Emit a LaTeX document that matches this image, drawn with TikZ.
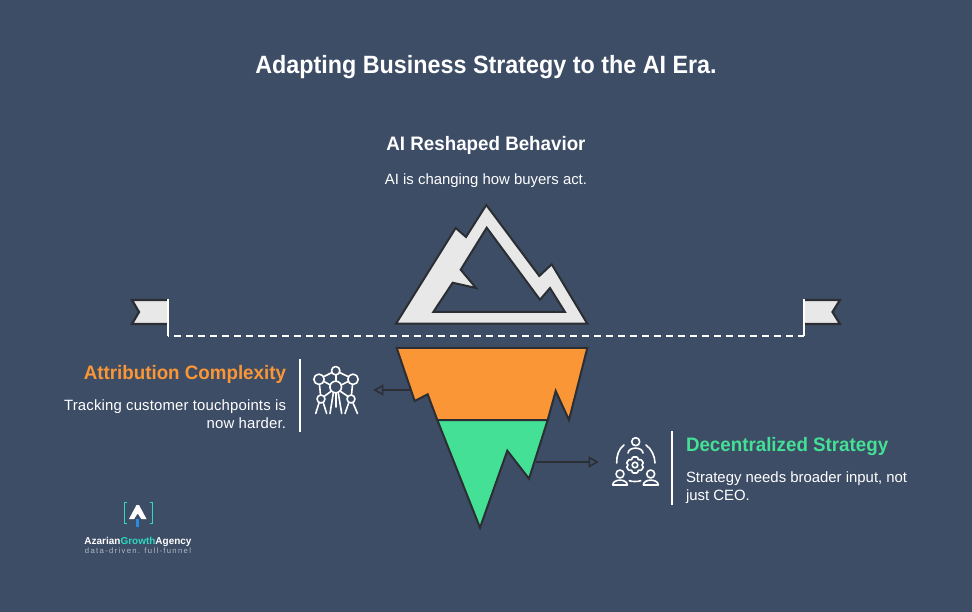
\documentclass[tikz,border=0pt]{standalone}
\usepackage{fontspec}
\setmainfont{Liberation Sans}
\newfontfamily\titlefam[FakeStretch=0.933]{Liberation Sans}
\newfontfamily\headfam[FakeStretch=0.962]{Liberation Sans}
\newfontfamily\bodywide[LetterSpace=1.1]{Liberation Sans}
\usetikzlibrary{arrows.meta}
\definecolor{bgc}{HTML}{3D4D66}
\definecolor{ink}{HTML}{2B2E33}
\definecolor{ice}{HTML}{E8E8E8}
\definecolor{orangec}{HTML}{FA9635}
\definecolor{greenc}{HTML}{43E095}
\definecolor{tealc}{HTML}{2FD9C0}
\definecolor{bluec}{HTML}{2B8BE0}
\tikzset{
  x=1pt,y=-1pt,
  berg/.style={draw=ink,line width=2pt,line join=miter,miter limit=6},
  txt/.style={inner sep=0pt,outer sep=0pt,text=white},
  titlet/.style={txt,font=\fontsize{25}{30}\selectfont\titlefam\bfseries},
  headt/.style={txt,font=\fontsize{19.5}{24}\selectfont\headfam\bfseries},
  bodyt/.style={txt,font=\fontsize{14.9}{18}\selectfont},
  conn/.style={draw=ink,line width=1.5pt,-{Triangle[open,length=10pt,width=11pt,line width=1.5pt]}},
  rulew/.style={draw=white,line width=1.7pt},
  icon/.style={draw=white,line width=1.6pt,line cap=round,line join=round},
  flagb/.style={fill=ice},
  flage/.style={draw=ink,line width=2.2pt,line join=miter}
}
\begin{document}
\begin{tikzpicture}
\useasboundingbox (0,0) rectangle (972,612);
\fill[bgc] (0,0) rectangle (972,612);

% texts
\node[titlet,anchor=base] (title) at (486,74) {Adapting Business Strategy to the AI Era.};
\node[headt,anchor=base] (hTop) at (486,151) {AI Reshaped Behavior};
\node[bodyt,anchor=base] (bTop) at (486,185) {AI is changing how buyers act.};
\node[headt,anchor=base east,text=orangec] (hLeft) at (286,379) {Attribution Complexity};
\node[bodyt,anchor=north east,align=right] (bLeft) at (286,399.7) {\bodywide Tracking customer touchpoints is\\\bodywide now harder.};
\node[headt,anchor=base west,text=greenc] (hRight) at (686,451) {Decentralized Strategy};
\node[bodyt,anchor=north west,align=left] (bRight) at (686,471.7) {Strategy needs broader input, not\\just CEO.};

% flags and water line
\coordinate (poleL) at (168,336);
\coordinate (poleR) at (804,336);
\fill[flagb] (132,300) -- (168,300) -- (168,324) -- (132,324) -- (139,312) -- cycle;
\draw[flage] (168,300) -- (132,300) -- (139,312) -- (132,324) -- (168,324);
\fill[flagb] (840,300) -- (804,300) -- (804,324) -- (840,324) -- (832.5,312) -- cycle;
\draw[flage] (804,300) -- (840,300) -- (832.5,312) -- (840,324) -- (804,324);
\draw[rulew] (168,299) -- (poleL);
\draw[rulew] (804,299) -- (poleR);
\draw[draw=white,line width=1.7pt,dash pattern=on 7pt off 5pt,dash phase=6pt] (poleL) -- (poleR);

% mountain
\draw[berg,fill=ice,even odd rule]
  (486.3,205) -- (539.3,276) -- (551.7,264.3) -- (587.3,323.7) -- (396,323.7) -- (455.7,228) -- (466,237) -- cycle
  (486.7,227.7) -- (540,299.7) -- (550,288) -- (565,312) -- (433.3,312) -- (452.7,282.7) -- (476,288) -- (460.7,269.7) -- cycle;

% iceberg below the water
\draw[berg,fill=orangec] (396.7,348) -- (587.3,348) -- (569,420) -- (555.7,391) -- (547.7,420) -- (437.3,420) -- (427.7,394.3) -- (414.7,401) -- cycle;
\draw[berg,fill=greenc] (437.3,420) -- (547.7,420) -- (529,478.7) -- (507.3,450.7) -- (480,527.7) -- cycle;

% connectors
\coordinate (orangeSide) at (411,390);
\coordinate (atomEnd) at (373.3,390);
\coordinate (greenSide) at (535.7,462);
\coordinate (gearEnd) at (598.7,462);
\draw[conn] (orangeSide) -- (atomEnd);
\draw[conn] (greenSide) -- (gearEnd);

% separators
\draw[rulew] (300,359) -- (300,432);
\draw[rulew] (672,431) -- (672,505);

% atomium icon
\begin{scope}[icon]
  \draw (335.7,370.7) circle (4.2);
  \draw (319,379.3) circle (5.2);
  \draw (353,379.3) circle (5.2);
  \draw (335.7,387) circle (5.8);
  \draw (321,399) circle (4);
  \draw (351,399) circle (4);
  \draw (332,372.5) -- (324,376.5);
  \draw (339.5,372.5) -- (348,376.5);
  \draw (335.7,375) -- (335.7,381.2);
  \draw (324,381.5) -- (330.3,385);
  \draw (348,381.5) -- (341.2,385);
  \draw (331.5,391) -- (324,396.5);
  \draw (340,391) -- (348,396.5);
  \draw (319.5,384.5) -- (320.5,395);
  \draw (352.5,384.5) -- (351.5,395);
  \draw (319,403) -- (315.7,413.5);
  \draw (323.3,403) -- (326.7,413.5);
  \draw (348.7,403) -- (345,413.5);
  \draw (353,403) -- (357.5,413.5);
  \draw (333.3,393) -- (330,413.5);
  \draw (338.3,393) -- (341.7,413.5);
  \draw (335.7,393) -- (335.7,407);
\end{scope}

% people and gear icon
\begin{scope}[icon]
  \draw (635.7,441.7) circle (4);
  \draw (628,453) .. controls (628.5,446.5) and (642.5,446.5) .. (643,453);
  \draw (620,474) circle (4);
  \draw (612.7,485) .. controls (613,478.5) and (627,478.5) .. (627.3,485) -- (612.7,485);
  \draw (650.7,474) circle (4);
  \draw (643.3,485) .. controls (643.6,478.5) and (658,478.5) .. (658.3,485) -- (643.3,485);
  \draw (624,445) .. controls (618.5,449) and (616.5,456) .. (616.7,463);
  \draw (646,445) .. controls (651.5,449) and (654.8,456) .. (655,463);
  \draw (629.3,480.7) .. controls (632.5,481.8) and (637.5,481.8) .. (640.7,480.7);
  \draw (635,465) circle (2.8);
  \draw[rounded corners=0.8pt] (632.5,457) -- (637.5,457) -- (638.3,460) -- (641,459.4) -- (643.5,463) -- (641.6,465)
        -- (643.5,467) -- (641,470.6) -- (638.3,470) -- (637.5,473) -- (632.5,473) -- (631.7,470)
        -- (629,470.6) -- (626.5,467) -- (628.4,465) -- (626.5,463) -- (629,459.4) -- (631.7,460) -- cycle;
\end{scope}

% logo
\draw[tealc,line width=1pt] (126.5,502.5) -- (124,502.5) -- (124,523.5) -- (126.5,523.5);
\draw[tealc,line width=1pt] (149.8,502.5) -- (152.3,502.5) -- (152.3,523.5) -- (149.8,523.5);
\fill[white] (136.5,505) -- (139,505) -- (146.5,519) -- (141.3,519) -- (137.7,513.5) -- (134.1,519) -- (129,519) -- cycle;
\fill[bluec] (136,518.5) rectangle (139.3,527);
\node[txt,anchor=base] (logoName) at (138,544) {\resizebox{107pt}{!}{\fontsize{10}{12}\selectfont\bfseries Azarian{\color{tealc}Growth}Agency}};
\node[txt,anchor=base,text=white!60!bgc] (logoTag) at (138,553) {\resizebox{106pt}{!}{\fontsize{6}{7}\selectfont d\,a\,t\,a\,-\,d\,r\,i\,v\,e\,n\,.\ \ f\,u\,l\,l\,-\,f\,u\,n\,n\,e\,l}};
\end{tikzpicture}
\end{document}
